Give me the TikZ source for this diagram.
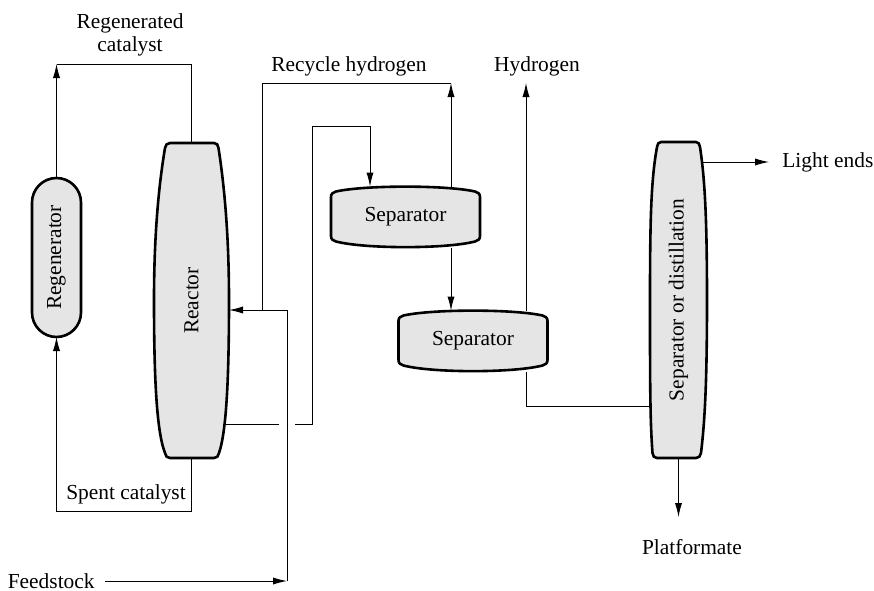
\documentclass[tikz,border=0pt]{standalone}
\usepackage{fontspec}
\setmainfont{Liberation Serif}
\usetikzlibrary{arrows.meta, calc}

\begin{document}
\begin{tikzpicture}[
    x=0.5pt, y=-0.5pt,
    vessel/.style={draw, line width=1.3pt, fill=black!10},
    unit/.style={inner sep=0pt, outer sep=0pt, font=\fontsize{10.7}{11.5}\selectfont},
    tag/.style={inner sep=1pt, font=\fontsize{10.7}{11.5}\selectfont, align=center},
    arrow/.style={-{Latex[length=7pt, width=3.6pt]}, line width=0.5pt},
    plain/.style={line width=0.5pt},
    drum/.pic={
        \draw[vessel] (-74.5,-20) -- (-74.5,19)
            .. controls (-74.5,22.5) and (-72.5,23.5) .. (-69.5,24.5)
            .. controls (-40.5,32) and (40.5,32) .. (69.5,24.5)
            .. controls (72.5,23.5) and (74.5,22.5) .. (74.5,19) -- (74.5,-20)
            .. controls (74.5,-23.5) and (72.5,-24.5) .. (69.5,-25.5)
            .. controls (40.5,-32) and (-40.5,-32) .. (-69.5,-25.5)
            .. controls (-72.5,-24.5) and (-74.5,-23.5) .. (-74.5,-20) -- cycle;
    }
]
    \useasboundingbox (0,0) rectangle (874,590);

    % vessels
    \draw[vessel] (170,143) -- (214,143)
        .. controls (217,143) and (218,145) .. (218.5,148)
        .. controls (225,190) and (229,240) .. (229,300)
        .. controls (229,370) and (227,430) .. (219,453)
        .. controls (218.5,456) and (217,458) .. (214,458) -- (170,458)
        .. controls (167,458) and (165.5,456) .. (165,453)
        .. controls (156,430) and (154,370) .. (154,300)
        .. controls (154,240) and (158,190) .. (165,148)
        .. controls (165.5,145) and (167,143) .. (170,143) -- cycle;
    \draw[vessel] (661,142) -- (696,142)
        .. controls (698.5,142) and (699.5,144) .. (700,147)
        .. controls (705,180) and (707,220) .. (707,300)
        .. controls (707,380) and (705,420) .. (701,453)
        .. controls (700.5,456) and (699,458) .. (696,458) -- (657,458)
        .. controls (654,458) and (653,456) .. (652.5,453)
        .. controls (650,420) and (650,380) .. (650,300)
        .. controls (650,220) and (651,180) .. (657,147)
        .. controls (657.5,144) and (658.5,142) .. (661,142) -- cycle;
    \pic at (405.5,217) {drum};
    \pic at (473,341) {drum};

    \node[vessel, unit, rounded corners=12.25pt, minimum width=24.5pt, minimum height=79.5pt] (regen) at (56.5,257.5) {\rotatebox{90}{Regenerator}};
    \node[unit, minimum width=37.5pt, minimum height=157.5pt] (reactor) at (191.5,300.5) {\rotatebox{90}{Reactor}};
    \node[unit, minimum width=74.5pt, minimum height=30.5pt] (sep1) at (405.5,217) {Separator};
    \node[unit, minimum width=74.5pt, minimum height=30.5pt] (sep2) at (473,341) {Separator};
    \node[unit, minimum width=28.5pt, minimum height=158pt] (column) at (678.5,300) {\rotatebox{90}{Separator or distillation}};

    % labels
    \node[tag] (regcat) at (130,34.5) {Regenerated\\catalyst};
    \node[tag] (spent) at (126,494) {Spent catalyst};
    \node[tag] (recycle) at (349,66) {Recycle hydrogen};
    \node[tag] (hyd) at (537,66) {Hydrogen};
    \node[tag, anchor=west, inner xsep=6.5pt] (light) at (769,162) {Light ends};
    \node[tag] (platf) at (692,547) {Platformate};
    \node[tag, anchor=east, inner xsep=5pt] (feed) at (105,581) {Feedstock};

    \coordinate (regtop) at (56.5,64);
    \coordinate (feedturn) at (287,581);
    \coordinate (rectop) at (451,83);
    \coordinate (recjoin) at (262,310);
    \coordinate (gapleft) at (279,424);
    \coordinate (gapright) at (295,424);
    \coordinate (hydtop) at (526,83);
    \coordinate (platend) at (678.5,517);

    % catalyst loop
    \draw[arrow] (regen.north) -- (regtop);
    \draw[plain] (regtop) -| (reactor.north);
    \draw[arrow] (reactor.south) -- (reactor.south |- 0,511) -| (regen.south);

    % feed and recycle
    \draw[arrow] (feed.east) -- (feedturn);
    \draw[arrow] (feedturn) |- (reactor.east |- recjoin);
    \draw[arrow] (sep1.north -| rectop) -- (rectop);
    \draw[plain] (rectop) -| (recjoin);

    % reactor effluent
    \draw[plain] ($(reactor.east |- gapleft)+(-4,0)$) -- (gapleft);
    \draw[arrow] (gapright) -| (312,126) -| (sep1.north -| 370,0);

    % separators and column
    \draw[arrow] (sep1.south -| rectop) -- (sep2.north -| rectop);
    \draw[arrow] (sep2.north -| hydtop) -- (hydtop);
    \draw[plain] (sep2.south -| hydtop) |- (column.west |- 0,406);
    \draw[arrow] ($(column.east |- light)+(-4,0)$) -- (light.west);
    \draw[arrow] (column.south) -- (platend);
\end{tikzpicture}
\end{document}
